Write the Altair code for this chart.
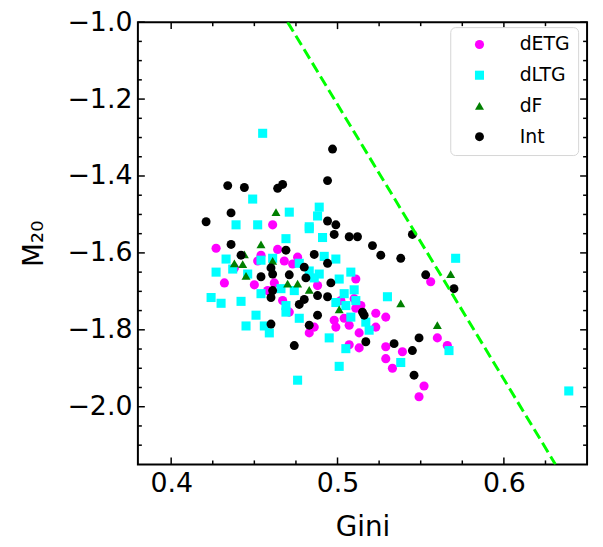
import altair as alt
import pandas as pd

# ---- data ----
types = ["dETG", "dLTG", "dF", "Int"]
colors = ["#ff00ff", "#00ffff", "#008000", "#000000"]
shapes = ["circle", "square", "triangle-up", "circle"]
marker_sizes = [85, 81, 100, 125]

detg_gini = [0.427, 0.461, 0.438, 0.432, 0.450, 0.476, 0.473, 0.464, 0.452, 0.468,
             0.454, 0.483, 0.510, 0.514, 0.523, 0.529, 0.499, 0.507, 0.513, 0.523,
             0.507, 0.513, 0.529, 0.539, 0.529, 0.533, 0.504, 0.498, 0.552, 0.549,
             0.556, 0.560, 0.566, 0.511, 0.511, 0.458, 0.467, 0.488, 0.502, 0.471,
             0.462, 0.486]
detg_m20 = [-1.588, -1.527, -1.639, -1.678, -1.683, -1.611, -1.629, -1.591, -1.621, -1.621,
            -1.606, -1.808, -1.719, -1.737, -1.757, -1.767, -1.793, -1.788, -1.808, -1.793,
            -1.839, -1.847, -1.844, -1.857, -1.875, -1.900, -1.770, -1.775, -1.946, -1.974,
            -1.675, -1.821, -1.841, -1.668, -1.744, -1.698, -1.724, -1.685, -1.724, -1.754,
            -1.678, -1.793]

dltg_gini = [0.455, 0.449, 0.471, 0.489, 0.488, 0.439, 0.452, 0.483, 0.491, 0.469,
             0.433, 0.427, 0.454, 0.461, 0.499, 0.571, 0.508, 0.489, 0.501, 0.504,
             0.510, 0.499, 0.505, 0.508, 0.517, 0.519, 0.495, 0.505, 0.501, 0.538,
             0.567, 0.639, 0.477, 0.476, 0.424, 0.430, 0.442, 0.451, 0.445, 0.456,
             0.459, 0.469, 0.469, 0.454, 0.466, 0.486, 0.530, 0.483, 0.474, 0.446,
             0.483, 0.492, 0.477, 0.511, 0.437]
dltg_m20 = [-1.289, -1.460, -1.494, -1.481, -1.504, -1.527, -1.527, -1.537, -1.560, -1.563,
            -1.616, -1.650, -1.619, -1.614, -1.616, -1.614, -1.650, -1.655, -1.668, -1.706,
            -1.696, -1.729, -1.737, -1.767, -1.780, -1.801, -1.821, -1.849, -1.895, -1.885,
            -1.854, -1.959, -1.770, -1.931, -1.716, -1.731, -1.726, -1.762, -1.790, -1.790,
            -1.808, -1.737, -1.754, -1.706, -1.693, -1.665, -1.714, -1.532, -1.698, -1.655,
            -1.647, -1.609, -1.627, -1.724, -1.642]

df_gini = [0.463, 0.454, 0.444, 0.438, 0.443, 0.445, 0.461, 0.470, 0.476, 0.483,
           0.501, 0.538, 0.568, 0.560]
df_m20 = [-1.494, -1.578, -1.604, -1.627, -1.629, -1.660, -1.621, -1.680, -1.680, -1.696,
          -1.747, -1.731, -1.655, -1.788]

int_gini = [0.421, 0.434, 0.444, 0.464, 0.467, 0.436, 0.436, 0.442, 0.469, 0.486,
            0.497, 0.494, 0.494, 0.499, 0.498, 0.507, 0.512, 0.521, 0.526, 0.538,
            0.545, 0.494, 0.480, 0.454, 0.460, 0.461, 0.471, 0.481, 0.496, 0.553,
            0.570, 0.488, 0.494, 0.461, 0.460, 0.480, 0.477, 0.515, 0.516, 0.488,
            0.483, 0.460, 0.517, 0.534, 0.545, 0.549, 0.546, 0.474]
int_m20 = [-1.519, -1.425, -1.430, -1.432, -1.422, -1.496, -1.578, -1.606, -1.593, -1.604,
           -1.330, -1.412, -1.517, -1.527, -1.552, -1.558, -1.558, -1.581, -1.606, -1.614,
           -1.552, -1.627, -1.637, -1.662, -1.639, -1.655, -1.657, -1.665, -1.678, -1.657,
           -1.693, -1.711, -1.714, -1.698, -1.716, -1.721, -1.734, -1.754, -1.762, -1.762,
           -1.788, -1.785, -1.831, -1.836, -1.854, -1.821, -1.918, -1.841]

# merger criterion line (Gini, M20 end points)
line_gini = [0.47, 0.631]
line_m20 = [-1.0, -2.15]

x_domain = [0.38, 0.65]
y_domain = [-2.15, -1.0]
x_major = [0.4, 0.5, 0.6]
x_minor = [0.425, 0.45, 0.475, 0.525, 0.55, 0.575, 0.625]
y_major = [-2.0, -1.8, -1.6, -1.4, -1.2, -1.0]
y_minor = [-2.1, -2.05, -1.95, -1.9, -1.85, -1.75, -1.7, -1.65, -1.55, -1.5,
           -1.45, -1.35, -1.3, -1.25, -1.15, -1.1, -1.05]

# ---- tables ----
groups = [(types[0], detg_gini, detg_m20), (types[1], dltg_gini, dltg_m20),
          (types[2], df_gini, df_m20), (types[3], int_gini, int_m20)]
pts = pd.concat([pd.DataFrame({"gini": g, "m20": m, "type": t}) for t, g, m in groups],
                ignore_index=True)
line_df = pd.DataFrame({"gini": line_gini, "m20": line_m20})
xmaj = pd.DataFrame({"gini": x_major})
xmin = pd.DataFrame({"gini": x_minor})
ymaj = pd.DataFrame({"m20": y_major})
ymin = pd.DataFrame({"m20": y_minor})

W, H = 453, 446
MAJ, MIN = 7, 4

xs = alt.Scale(domain=x_domain, nice=False, zero=False)
ys = alt.Scale(domain=y_domain, nice=False, zero=False)
x_axis = alt.Axis(values=x_major, format=".1f", title="Gini", labelPadding=6,
                  titleY=72, titleBaseline="alphabetic")
y_axis = alt.Axis(values=y_major, format=".1f", title="M₂₀", labelPadding=6,
                  titleX=-96, titleBaseline="alphabetic")
X = alt.X("gini:Q", scale=xs, axis=x_axis)
Y = alt.Y("m20:Q", scale=ys, axis=y_axis)

leg = alt.Legend(orient="none", legendX=315, legendY=5)
points = alt.Chart(pts).mark_point(filled=True, opacity=1, strokeWidth=0).encode(
    x=X, y=Y,
    color=alt.Color("type:N", scale=alt.Scale(domain=types, range=colors), title=None,
                    legend=leg),
    shape=alt.Shape("type:N", scale=alt.Scale(domain=types, range=shapes), title=None,
                    legend=leg),
    size=alt.Size("type:N", scale=alt.Scale(domain=types, range=marker_sizes), legend=None),
)

crit = alt.Chart(line_df).mark_line(color="#00ff00", strokeWidth=3, strokeDash=[11, 5],
                                    clip=True).encode(x=X, y=Y)


def xticks(data, length):
    bottom = alt.Chart(data).mark_rule(color="black", strokeWidth=1.5).encode(
        x=X, y=alt.value(H), y2=alt.value(H - length))
    top = alt.Chart(data).mark_rule(color="black", strokeWidth=1.5).encode(
        x=X, y=alt.value(0), y2=alt.value(length))
    return [bottom, top]


def yticks(data, length):
    left = alt.Chart(data).mark_rule(color="black", strokeWidth=1.5).encode(
        y=Y, x=alt.value(0), x2=alt.value(length))
    right = alt.Chart(data).mark_rule(color="black", strokeWidth=1.5).encode(
        y=Y, x=alt.value(W), x2=alt.value(W - length))
    return [left, right]


layers = [points, crit] + xticks(xmaj, MAJ) + xticks(xmin, MIN) + yticks(ymaj, MAJ) + yticks(ymin, MIN)

chart = alt.layer(*layers).properties(
    width=W, height=H,
    autosize=alt.AutoSizeParams(type="none"),
    padding={"left": 131, "top": 12, "right": 8, "bottom": 80},
).configure_view(
    stroke="black", strokeWidth=2
).configure_axis(
    domain=False, ticks=False, tickSize=0, grid=False,
    labelFont="DejaVu Sans", labelFontSize=27, labelColor="black",
    titleFont="DejaVu Sans", titleFontSize=28, titleFontWeight="normal", titleColor="black",
).configure_legend(
    labelFont="DejaVu Sans", labelFontSize=19, labelColor="black",
    symbolSize=64, symbolStrokeWidth=0, padding=8, rowPadding=11,
    symbolOffset=12, labelOffset=31,
    strokeColor="#d6d6d6", fillColor="white", cornerRadius=5,
)

chart.save("out.html", embed_options={"renderer": "svg", "actions": False})
